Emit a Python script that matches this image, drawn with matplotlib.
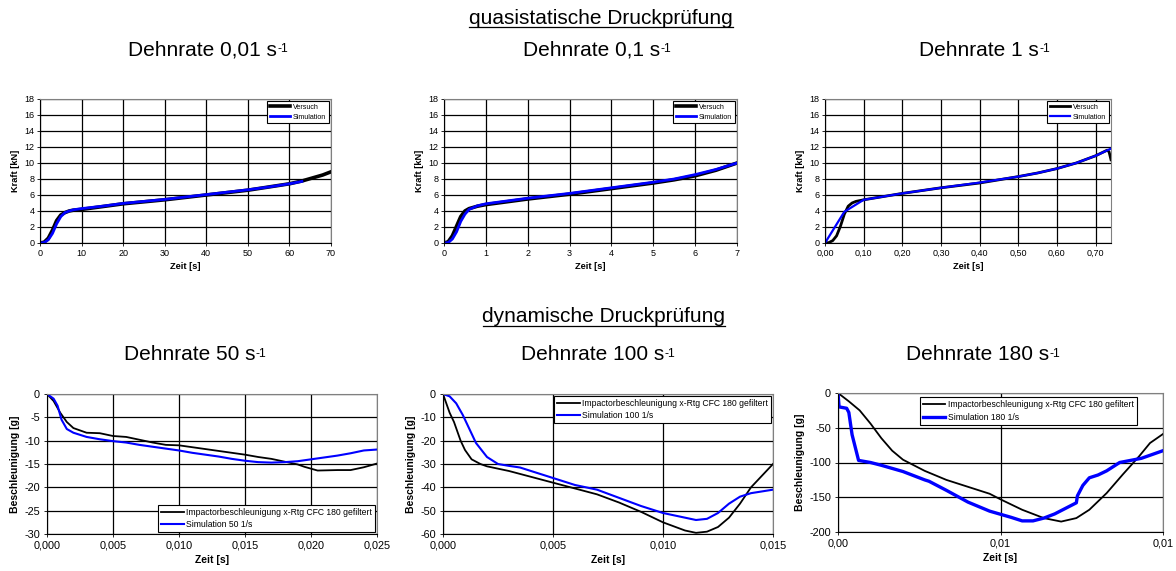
import numpy as np
import matplotlib
matplotlib.use("Agg")
import matplotlib.pyplot as plt
from matplotlib.lines import Line2D

plt.rcParams["font.family"] = ["Liberation Sans", "DejaVu Sans"]
plt.rcParams["axes.unicode_minus"] = False

# ── data: quasistatic ─────────────────────────────────────────────────────────
t1_vers = [0, 1, 2, 3, 4, 5, 6, 7, 8, 10, 15, 20, 25, 30, 35, 40, 45, 50, 55, 60, 63, 66, 68, 70]
f1_vers = [0, 0.1, 0.6, 1.6, 2.8, 3.5, 3.8, 4.0, 4.1, 4.2, 4.55, 4.9, 5.15, 5.4, 5.7, 6.0, 6.3, 6.6, 7.0, 7.4, 7.75, 8.2, 8.5, 8.9]
t1_sim = [0, 1, 2, 3, 4, 5, 6, 7, 8, 10, 15, 20, 25, 30, 35, 40, 45, 50, 55, 60, 63]
f1_sim = [0, 0.05, 0.4, 1.2, 2.4, 3.3, 3.8, 4.0, 4.15, 4.3, 4.6, 4.95, 5.2, 5.45, 5.75, 6.05, 6.35, 6.65, 7.0, 7.4, 7.7]

t2_vers = [0, 0.1, 0.2, 0.3, 0.4, 0.5, 0.6, 0.8, 1, 1.5, 2, 2.5, 3, 3.5, 4, 4.5, 5, 5.5, 6, 6.5, 7]
f2_vers = [0, 0.15, 0.9, 2.1, 3.3, 4.0, 4.3, 4.6, 4.8, 5.15, 5.5, 5.8, 6.1, 6.45, 6.8, 7.15, 7.5, 7.9, 8.4, 9.1, 10.0]
t2_sim = [0, 0.1, 0.2, 0.3, 0.4, 0.5, 0.6, 0.8, 1, 1.5, 2, 2.5, 3, 3.5, 4, 4.5, 5, 5.5, 6, 6.5, 7]
f2_sim = [0, 0.05, 0.5, 1.4, 2.7, 3.6, 4.2, 4.65, 4.9, 5.25, 5.6, 5.9, 6.2, 6.55, 6.9, 7.25, 7.6, 8.0, 8.55, 9.2, 10.0]

t3_vers = [0, 0.01, 0.02, 0.03, 0.04, 0.05, 0.06, 0.07, 0.08, 0.10, 0.15, 0.20, 0.30, 0.40, 0.50, 0.55, 0.60, 0.65, 0.70, 0.73, 0.735, 0.74]
f3_vers = [0, 0.05, 0.3, 0.9, 2.1, 3.6, 4.6, 5.0, 5.2, 5.4, 5.8, 6.2, 6.9, 7.5, 8.3, 8.75, 9.3, 10.0, 10.9, 11.6, 11.4, 10.4]
t3_sim = [0, 0.05, 0.10, 0.15, 0.20, 0.30, 0.40, 0.50, 0.55, 0.60, 0.65, 0.70, 0.74]
f3_sim = [0, 3.9, 5.4, 5.8, 6.2, 6.9, 7.55, 8.3, 8.75, 9.3, 10.0, 10.9, 11.8]

# ── data: dynamic ─────────────────────────────────────────────────────────────
t4_vers = [0, 0.0005, 0.001, 0.0015, 0.002, 0.003, 0.004, 0.005, 0.006, 0.007, 0.008, 0.009, 0.010,
           0.011, 0.012, 0.013, 0.014, 0.015, 0.016, 0.017, 0.018, 0.019, 0.0195, 0.0205, 0.022, 0.023, 0.024, 0.025]
a4_vers = [0, -1.5, -4, -6, -7.3, -8.3, -8.4, -9.0, -9.2, -9.8, -10.4, -10.9, -11.0,
           -11.4, -11.8, -12.2, -12.6, -13.0, -13.5, -13.9, -14.5, -15.1, -15.6, -16.4, -16.3, -16.3, -15.7, -14.9]
t4_sim = [0, 0.0005, 0.0008, 0.0011, 0.0015, 0.002, 0.003, 0.004, 0.005, 0.006, 0.007, 0.008, 0.009, 0.010,
          0.011, 0.012, 0.013, 0.014, 0.015, 0.016, 0.017, 0.018, 0.019, 0.020, 0.021, 0.022, 0.023, 0.024, 0.025]
a4_sim = [0, -1.0, -2.5, -5.5, -7.5, -8.3, -9.2, -9.7, -10.1, -10.4, -10.9, -11.3, -11.7, -12.1,
          -12.6, -13.0, -13.4, -13.9, -14.3, -14.6, -14.7, -14.6, -14.4, -14.0, -13.6, -13.2, -12.7, -12.1, -11.9]

t5_vers = [0, 0.0003, 0.0005, 0.0008, 0.001, 0.0013, 0.0017, 0.002, 0.003, 0.004, 0.005, 0.006, 0.007,
           0.008, 0.009, 0.010, 0.011, 0.0115, 0.012, 0.0125, 0.013, 0.0135, 0.014, 0.0145, 0.015]
a5_vers = [0, -8, -12, -20, -24, -28, -30, -31, -33, -35.5, -38, -40.5, -43,
           -46.5, -50.5, -55, -58.5, -59.5, -59, -57, -53, -47, -40, -35, -30]
t5_sim = [0, 0.0003, 0.0006, 0.0009, 0.0012, 0.0015, 0.002, 0.0025, 0.003, 0.0035, 0.004, 0.005, 0.006,
          0.007, 0.008, 0.009, 0.010, 0.011, 0.0115, 0.012, 0.0125, 0.013, 0.0135, 0.014, 0.015]
a5_sim = [0, -1, -4, -9, -15, -21, -27, -30, -30.8, -31.5, -33, -36, -39,
          -41, -44.5, -48, -51, -53, -54, -53.5, -51, -47, -44, -42.5, -41]

t6_vers = [0, 0.0005, 0.001, 0.0015, 0.002, 0.0025, 0.003, 0.004, 0.005, 0.006, 0.007, 0.0075, 0.0085,
           0.0095, 0.0103, 0.011, 0.0116, 0.0124, 0.01315, 0.0139, 0.0144, 0.015]
a6_vers = [0, -12, -25, -44, -65, -83, -96, -112, -125, -135, -145, -153, -168,
           -180, -185, -180, -168, -144, -117, -91, -72, -59]
t6_sim = [0, 0.00005, 0.0004, 0.0005, 0.00065, 0.00095, 0.0015, 0.002, 0.003, 0.004, 0.0042, 0.005, 0.006,
          0.007, 0.008, 0.0085, 0.009, 0.0095, 0.010, 0.0105, 0.011, 0.01105, 0.0113, 0.0116, 0.012, 0.0124,
          0.013, 0.014, 0.015]
a6_sim = [0, -20, -22, -28, -60, -97, -100, -104, -113, -125, -127, -140, -157,
          -170, -179, -184, -184, -180, -174, -166, -158, -148, -133, -122, -118, -112,
          -100, -94, -83]

legend_top = ["Versuch", "Simulation"]
legend_dyn_black = "Impactorbeschleunigung x-Rtg CFC 180 gefiltert"

fig = plt.figure(figsize=(11.76, 5.71), dpi=100)
W, H = 1176, 571


def make_ax(l, r, t, b):
    ax = fig.add_axes([l / W, 1 - b / H, (r - l) / W, (b - t) / H])
    for s in ("top", "right"):
        ax.spines[s].set_color("#808080")
    for s in ("left", "bottom"):
        ax.spines[s].set_color("black")
    ax.grid(True, color="black", lw=0.9)
    ax.set_axisbelow(True)
    return ax


def fmt(vals, nd):
    return [f"{v:.{nd}f}".replace(".", ",") for v in vals]


def style_top(ax, xticks, xlabels):
    ax.set_ylim(0, 18)
    ax.set_yticks(range(0, 19, 2))
    ax.set_xticks(xticks)
    ax.set_xticklabels(xlabels)
    ax.tick_params(labelsize=6.5, length=2, width=0.6, pad=2)
    ax.set_xlabel("Zeit [s]", fontsize=6.7, fontweight="bold", labelpad=3)
    ax.set_ylabel("Kraft [kN]", fontsize=6.7, fontweight="bold", labelpad=3)


def top_legend(ax):
    leg = ax.legend(loc="upper right", fontsize=5.1, frameon=True, fancybox=False,
                    edgecolor="black", framealpha=1, borderpad=0.35, handlelength=2.8,
                    handletextpad=0.5, labelspacing=0.45, borderaxespad=0.3)
    leg.get_frame().set_linewidth(0.8)


# top row
ax1 = make_ax(40, 331, 99, 243)
ax1.plot(t1_vers, f1_vers, color="black", lw=2.6, label=legend_top[0])
ax1.plot(t1_sim, f1_sim, color="#0000ff", lw=2.0, label=legend_top[1])
ax1.set_xlim(0, 70)
style_top(ax1, range(0, 71, 10), [str(v) for v in range(0, 71, 10)])
top_legend(ax1)

ax2 = make_ax(444, 737, 99, 243)
ax2.plot(t2_vers, f2_vers, color="black", lw=2.6, label=legend_top[0])
ax2.plot(t2_sim, f2_sim, color="#0000ff", lw=2.0, label=legend_top[1])
ax2.set_xlim(0, 7)
style_top(ax2, range(0, 8), [str(v) for v in range(0, 8)])
top_legend(ax2)

ax3 = make_ax(825, 1111, 99, 243)
ax3.plot(t3_vers, f3_vers, color="black", lw=2.0, label=legend_top[0])
ax3.plot(t3_sim, f3_sim, color="#0000ff", lw=1.6, label=legend_top[1])
ax3.set_xlim(0, 0.74)
xt3 = [i / 10 for i in range(8)]
style_top(ax3, xt3, fmt(xt3, 2))
top_legend(ax3)


# bottom row
def style_bottom(ax):
    ax.tick_params(labelsize=7.8, length=2, width=0.6, pad=3)
    ax.set_xlabel("Zeit [s]", fontsize=7.5, fontweight="bold", labelpad=3)
    ax.set_ylabel("Beschleunigung [g]", fontsize=7.5, fontweight="bold", labelpad=3)


def dyn_legend(ax, **kw):
    leg = ax.legend(fontsize=6.2, frameon=True, fancybox=False, edgecolor="black",
                    framealpha=1, borderpad=0.35, handlelength=2.6, handletextpad=0.3,
                    labelspacing=0.4, **kw)
    leg.get_frame().set_linewidth(0.8)


ax4 = make_ax(47, 377, 394, 534)
ax4.plot(t4_vers, a4_vers, color="black", lw=1.3, label=legend_dyn_black)
ax4.plot(t4_sim, a4_sim, color="#0000ff", lw=1.5, label="Simulation 50 1/s")
ax4.set_xlim(0, 0.025)
ax4.set_ylim(-30, 0)
ax4.set_yticks(range(-30, 1, 5))
xt4 = [i * 0.005 for i in range(6)]
ax4.set_xticks(xt4)
ax4.set_xticklabels(fmt(xt4, 3))
style_bottom(ax4)
dyn_legend(ax4, loc="lower right", borderaxespad=0.2)

ax5 = make_ax(443, 773, 394, 534)
ax5.plot(t5_vers, a5_vers, color="black", lw=1.3, label=legend_dyn_black)
ax5.plot(t5_sim, a5_sim, color="#0000ff", lw=1.5, label="Simulation 100 1/s")
ax5.set_xlim(0, 0.015)
ax5.set_ylim(-60, 0)
ax5.set_yticks(range(-60, 1, 10))
xt5 = [i * 0.005 for i in range(4)]
ax5.set_xticks(xt5)
ax5.set_xticklabels(fmt(xt5, 3))
style_bottom(ax5)
dyn_legend(ax5, loc="upper right", borderaxespad=0.2)

ax6 = make_ax(838, 1163, 393, 532)
ax6.plot(t6_vers, a6_vers, color="black", lw=1.3, label=legend_dyn_black)
ax6.plot(t6_sim, a6_sim, color="#0000ff", lw=2.4, label="Simulation 180 1/s")
ax6.set_xlim(0, 0.015)
ax6.set_ylim(-200, 0)
ax6.set_yticks(range(-200, 1, 50))
ax6.set_xticks([0, 0.0075, 0.015])
ax6.set_xticklabels(["0,00", "0,01", "0,01"])
style_bottom(ax6)
dyn_legend(ax6, loc="upper center", bbox_to_anchor=(0.585, 0.97), borderaxespad=0.0)

# ── headings ──────────────────────────────────────────────────────────────────
fig.canvas.draw()
renderer = fig.canvas.get_renderer()


def heading(x, y, s, size=15):
    t = fig.text(x / W, 1 - y / H, s, ha="center", va="center", fontsize=size)
    bb = t.get_window_extent(renderer)
    yline = (bb.y0 + 0.5) / H
    fig.add_artist(Line2D([bb.x0 / W, bb.x1 / W], [yline, yline], color="black", lw=0.9))


def rate_title(x, y, s, size=15):
    sup = fig.text(0, 0, "-1", fontsize=size * 0.58)
    sw = sup.get_window_extent(renderer).width
    t = fig.text((x - sw / 2) / W, 1 - y / H, s, ha="center", va="center", fontsize=size)
    bb = t.get_window_extent(renderer)
    sup.set_position(((bb.x1 + 0.5) / W, (bb.y1 - 2.5) / H))
    sup.set_va("top")
    sup.set_ha("left")


heading(601, 18, "quasistatische Druckprüfung")
heading(604, 317, "dynamische Druckprüfung")
rate_title(208, 50, "Dehnrate 0,01 s")
rate_title(597, 50, "Dehnrate 0,1 s")
rate_title(984, 50, "Dehnrate 1 s")
rate_title(195, 355, "Dehnrate 50 s")
rate_title(598, 355, "Dehnrate 100 s")
rate_title(983, 355, "Dehnrate 180 s")

fig.savefig("out.png", dpi=100)
